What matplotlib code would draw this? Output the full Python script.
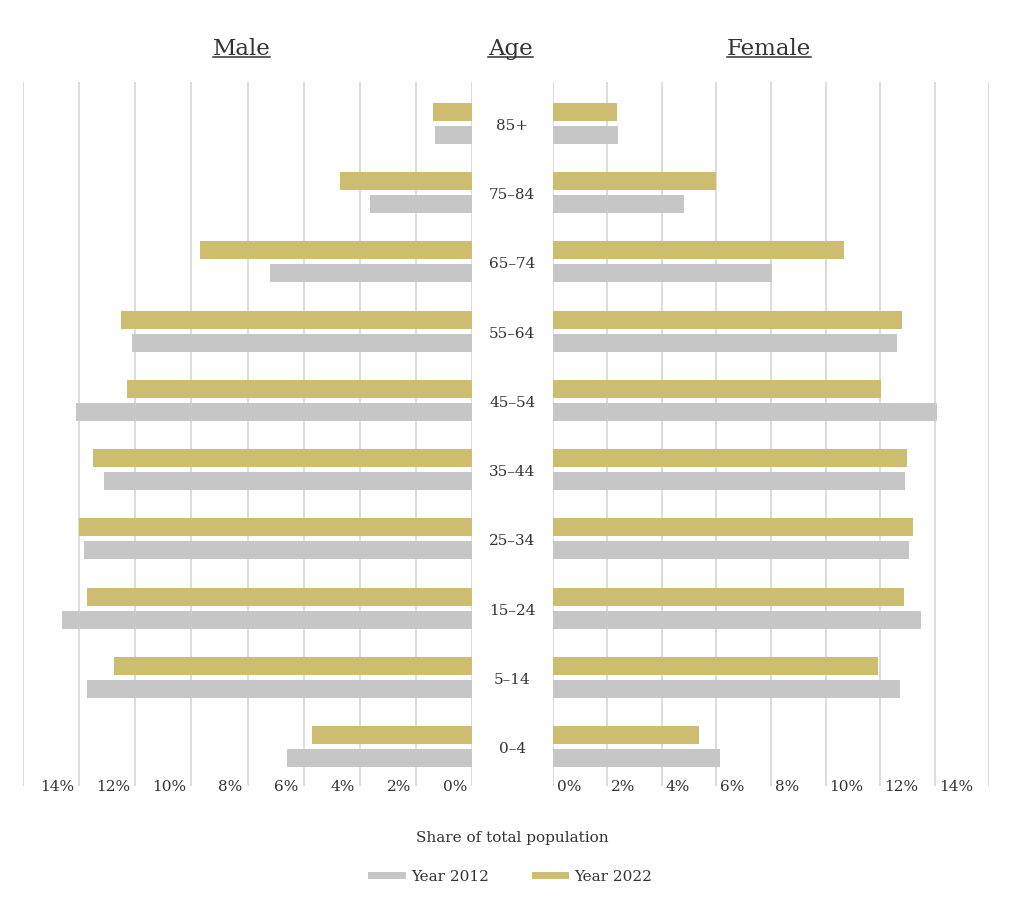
import matplotlib.pyplot as plt
import matplotlib.transforms as mtransforms
from matplotlib.lines import Line2D

plt.rcParams['font.family'] = ['DejaVu Serif']

ages = ['0–4', '5–14', '15–24', '25–34', '35–44', '45–54', '55–64', '65–74', '75–84', '85+']
male_2012 = [6.61, 13.72, 14.62, 13.81, 13.11, 14.12, 12.10, 7.20, 3.64, 1.32]
male_2022 = [5.70, 12.77, 13.72, 13.99, 13.51, 12.30, 12.50, 9.69, 4.70, 1.39]
female_2012 = [6.13, 12.71, 13.48, 13.06, 12.92, 14.10, 12.60, 8.02, 4.83, 2.40]
female_2022 = [5.36, 11.93, 12.86, 13.22, 12.97, 12.03, 12.81, 10.68, 5.98, 2.36]

tick_vals = [0, 2, 4, 6, 8, 10, 12, 14, 16]
tick_labels = ['0%', '2%', '4%', '6%', '8%', '10%', '12%', '14%', '']

gray = '#c6c6c6'
gold = '#cdbd70'
grid_c = '#d6d6d6'
text_c = '#333333'

fig = plt.figure(figsize=(10.24, 9.04), dpi=100)
W, H = 1024, 904
ax_l = fig.add_axes([23 / W, 117 / H, 449 / W, 704 / H])
ax_r = fig.add_axes([552.7 / W, 117 / H, 436.6 / W, 704 / H])

y = list(range(len(ages)))
h = 0.26
off = 0.166

ax_l.barh([v + off for v in y], male_2022, height=h, color=gold)
ax_l.barh([v - off for v in y], male_2012, height=h, color=gray)
ax_r.barh([v + off for v in y], female_2022, height=h, color=gold)
ax_r.barh([v - off for v in y], female_2012, height=h, color=gray)

ax_l.set_xlim(16, 0)
ax_r.set_xlim(0, 16)

for ax in (ax_l, ax_r):
    ax.set_ylim(-0.57, 9.60)
    ax.set_xticks(tick_vals, tick_labels)
    ax.grid(axis='x', color=grid_c, lw=1.2)
    ax.set_axisbelow(True)
    for s in ax.spines.values():
        s.set_visible(False)
    ax.tick_params(axis='x', length=0, pad=0, labelsize=11, labelcolor=text_c)

ax_l.set_yticks([])
ax_r.set_yticks(y, ages)
ax_r.tick_params(axis='y', length=0, pad=29.05, labelsize=11, labelcolor=text_c)
for lab in ax_r.get_yticklabels():
    lab.set_ha('center')

# tick labels sit beside the gridlines, centred on the bottom edge
shift_l = mtransforms.ScaledTranslation(-0.05, 0, fig.dpi_scale_trans)
shift_r = mtransforms.ScaledTranslation(0.04, 0, fig.dpi_scale_trans)
for lab in ax_l.get_xticklabels():
    lab.set_ha('right')
    lab.set_va('center')
    lab.set_transform(lab.get_transform() + shift_l)
for lab in ax_r.get_xticklabels():
    lab.set_ha('left')
    lab.set_va('center')
    lab.set_transform(lab.get_transform() + shift_r)

# headers with underline
titles = []
for label, xc in [('Male', 241.5), ('Age', 510.5), ('Female', 769)]:
    t = fig.text(xc / W, 1 - 55 / H, label, ha='center', va='baseline',
                 fontsize=16.5, color=text_c)
    titles.append(t)

fig.canvas.draw()
r = fig.canvas.get_renderer()
for t in titles:
    bb = t.get_window_extent(r)
    yy = (H - 58) / H
    fig.add_artist(Line2D([bb.x0 / W, bb.x1 / W], [yy, yy], color=text_c, lw=1.1,
                          transform=fig.transFigure))

fig.text(0.5, 1 - 838 / H, 'Share of total population', ha='center', va='center',
         fontsize=11, color=text_c)

handles = [Line2D([], [], color=gray, lw=5), Line2D([], [], color=gold, lw=5)]
fig.legend(handles, ['Year 2012', 'Year 2022'], loc='center',
           bbox_to_anchor=(0.5, 1 - 877 / H), ncol=2, frameon=False,
           handlelength=2.0, handletextpad=0.6, columnspacing=3.0,
           fontsize=11, labelcolor=text_c)

fig.savefig('out.png', dpi=100)
